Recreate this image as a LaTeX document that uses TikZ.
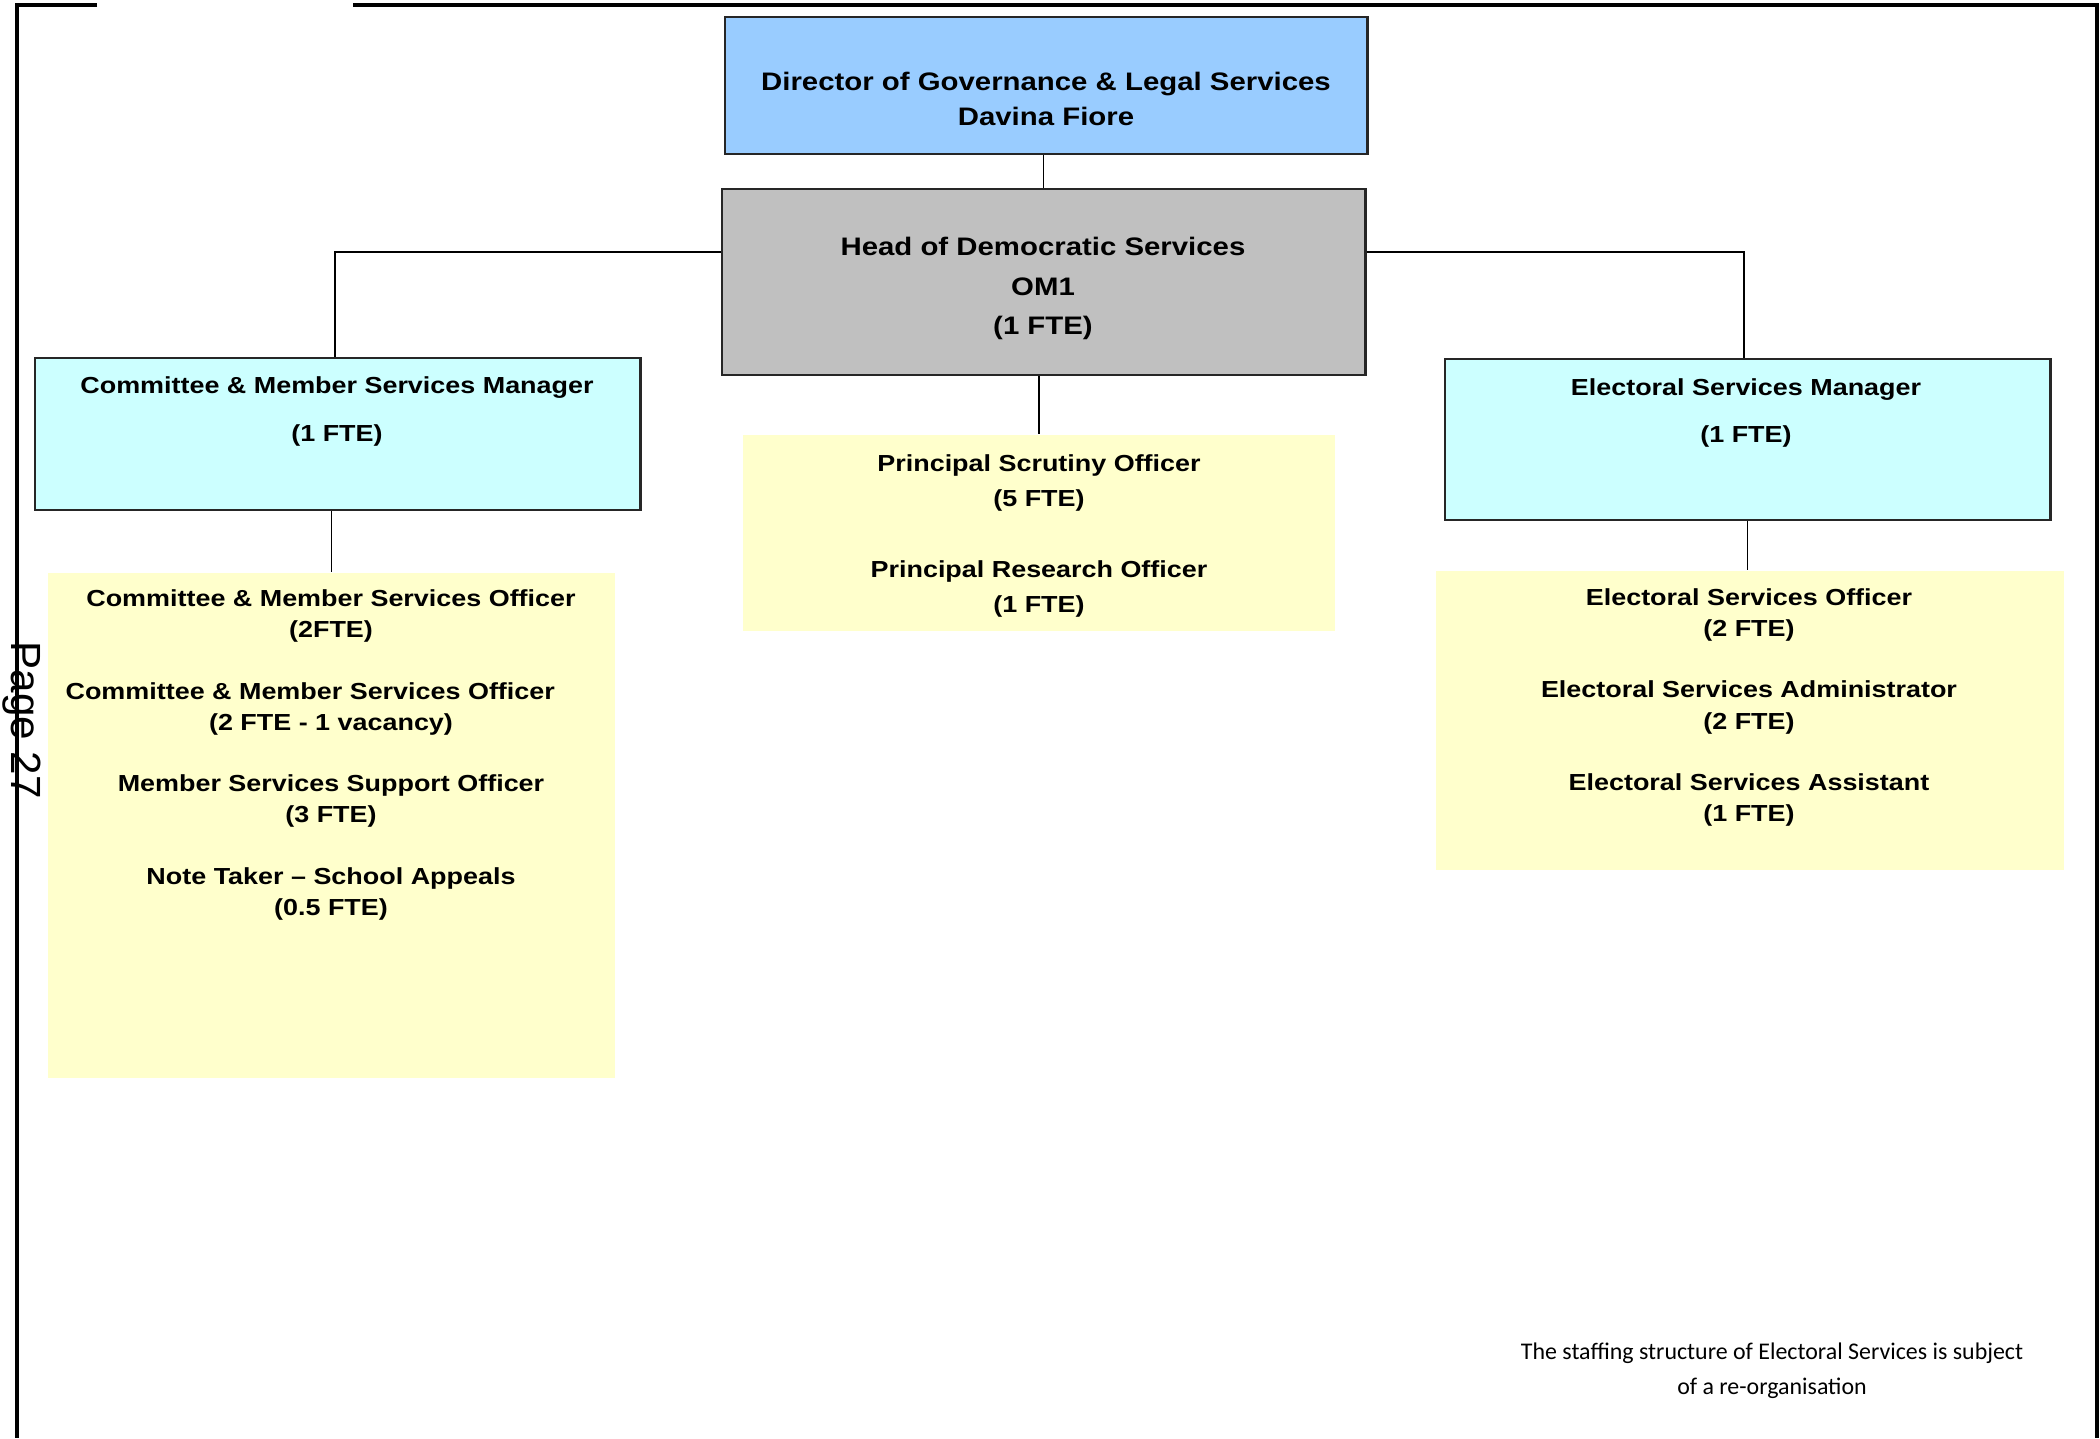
\documentclass[tikz,border=0pt]{standalone}
\usepackage{fontspec}
\newfontfamily\orgfont{Liberation Sans}[FakeStretch=1.16]
\newfontfamily\notefont{Carlito}
\newfontfamily\pagefont{Liberation Sans}
\definecolor{dirblue}{HTML}{99CCFF}
\definecolor{headgrey}{HTML}{C0C0C0}
\definecolor{mgrcyan}{HTML}{CCFFFF}
\definecolor{teamyellow}{HTML}{FFFFCC}

\begin{document}
\begin{tikzpicture}[x=0.01cm,y=-0.01cm,
    post/.style={draw=black!85,line width=0.75pt,inner sep=0pt},
    team/.style={fill=teamyellow,inner sep=0pt},
    txt/.style={align=center,inner sep=0pt,font=\orgfont\bfseries\fontsize{6.6}{8.8}\selectfont},
    bigtxt/.style={txt,font=\orgfont\bfseries\fontsize{7.2}{9.9}\selectfont},
    mgrtxt/.style={txt,font=\orgfont\bfseries\fontsize{6.6}{13.4}\selectfont},
    link/.style={line width=0.55pt}]
  \useasboundingbox (0,0) rectangle (2100,1438);
  % page frame
  \draw[line width=0.9pt] (97,5) -- (17,5) -- (17,1438);
  \draw[line width=0.9pt] (353,5) -- (2097,5) -- (2097,1438);
  \node[rotate=-90,inner sep=0pt,font=\pagefont\fontsize{12}{14}\selectfont] (pagenum) at (22,720) {Page 27};

  \node[post,fill=dirblue,minimum width=6.42cm,minimum height=1.37cm] (director) at (1046,85.5) {};
  \node[bigtxt] (director-txt) at (1046,99) {Director of Governance \& Legal Services\\Davina Fiore};
  \node[post,fill=headgrey,minimum width=6.43cm,minimum height=1.86cm] (head) at (1043.5,282) {};
  \node[bigtxt,font=\orgfont\bfseries\fontsize{7.2}{11.2}\selectfont] (head-txt) at (1043,288.5) {Head of Democratic Services\\OM1\\(1 FTE)};

  \node[post,fill=mgrcyan,minimum width=6.05cm,minimum height=1.52cm] (cmsmgr) at (337.5,434) {};
  \node[mgrtxt] (cmsmgr-txt) at (337,411.5) {Committee \& Member Services Manager\\(1 FTE)};
  \node[post,fill=mgrcyan,minimum width=6.05cm,minimum height=1.61cm] (esmgr) at (1747.5,439.5) {};
  \node[mgrtxt] (esmgr-txt) at (1746,413) {Electoral Services Manager\\(1 FTE)};

  \node[team,minimum width=5.92cm,minimum height=1.96cm] (scrutiny) at (1039,533) {};
  \node[txt,font=\orgfont\bfseries\fontsize{6.6}{10}\selectfont] (scrutiny-txt) at (1039,536)
    {Principal Scrutiny Officer\\(5 FTE)\\[10pt]Principal Research Officer\\(1 FTE)};
  \node[team,minimum width=5.67cm,minimum height=5.05cm] (cmsteam) at (331.5,825.5) {};
  \node[txt] (cmsteam-txt) at (331,755)
    {Committee \& Member Services Officer\\(2FTE)\\[8.8pt]
     Committee \& Member Services Officer\rule{11.8pt}{0pt}\\(2 FTE - 1 vacancy)\\[8.8pt]
     Member Services Support Officer\\(3 FTE)\\[8.8pt]
     Note Taker – School Appeals\\(0.5 FTE)};
  \node[team,minimum width=6.28cm,minimum height=2.99cm] (esteam) at (1750,720.5) {};
  \node[txt,font=\orgfont\bfseries\fontsize{6.6}{9}\selectfont] (esteam-txt) at (1749,707.5)
    {Electoral Services Officer\\(2 FTE)\\[8.3pt]
     Electoral Services Administrator\\(2 FTE)\\[8.3pt]
     Electoral Services Assistant\\(1 FTE)};

  \coordinate (branch) at (0,252);
  \coordinate (cmsdrop) at (335,252);
  \coordinate (esdrop) at (1744,252);
  \draw[link] (head.north |- director.south) -- (head.north);
  \draw[link] (head.west |- branch) -- (cmsdrop) -- (cmsdrop |- cmsmgr.north);
  \draw[link] (head.east |- branch) -- (esdrop) -- (esdrop |- esmgr.north);
  \draw[link] (head.south -| scrutiny.north) -- (scrutiny.north);
  \draw[link] (cmsmgr.south -| cmsteam.north) -- (cmsteam.north);
  \draw[link] (esmgr.south) -- (esmgr.south |- esteam.north);

  \node[align=center,inner sep=0pt,font=\notefont\fontsize{6.8}{9.96}\selectfont] (note) at (1772,1370.5)
    {The staffing structure of Electoral Services is subject\\of a re-organisation};
\end{tikzpicture}
\end{document}
